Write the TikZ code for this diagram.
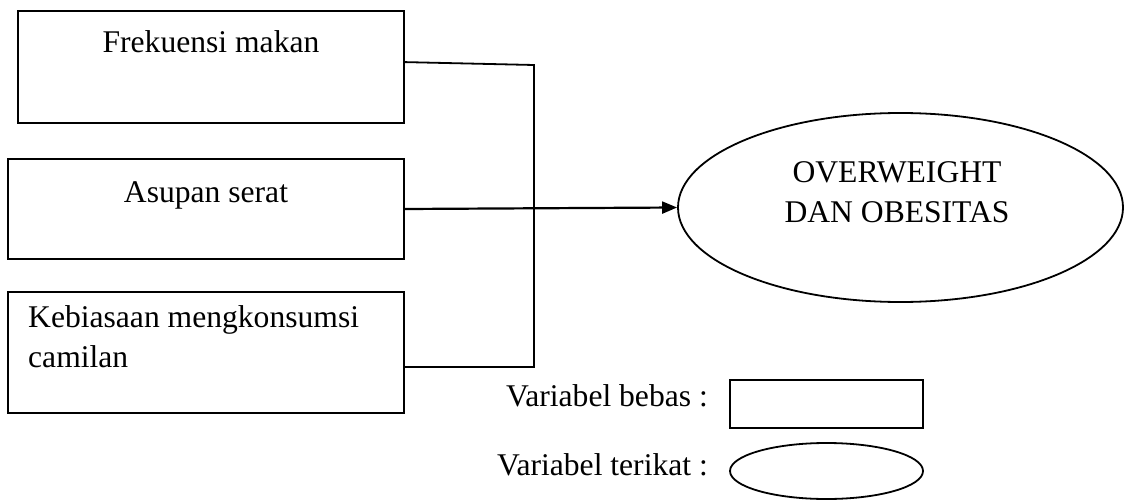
\documentclass[tikz,border=0pt]{standalone}
\usepackage{fontspec}
\setmainfont{Liberation Serif}
\usetikzlibrary{shapes.geometric,arrows.meta}
\begin{document}
\begin{tikzpicture}[x=1pt,y=-1pt,
  txt/.style={font=\fontsize{31.6}{40}\selectfont, inner sep=0pt},
  boxs/.style={draw, line width=1.8pt, inner sep=0pt},
  conn/.style={line width=1.8pt},
  arr/.style={line width=2.2pt, -{Triangle[length=15pt,width=12pt]}}]
\useasboundingbox[fill=white] (0,0) rectangle (1126,500);
% boxes
\node[boxs, minimum width=386pt, minimum height=112pt] (b1) at (211,67) {};
\node[boxs, minimum width=396pt, minimum height=100pt] (b2) at (206,209) {};
\node[boxs, minimum width=396pt, minimum height=121pt] (b3) at (206,352.5) {};
\node[txt, anchor=base] (t1) at (211,53) {Frekuensi makan};
\node[txt, anchor=base] (t2) at (206,202) {Asupan serat};
\node[txt, anchor=base west] (t3) at (28,327) {Kebiasaan mengkonsumsi};
\node[txt, anchor=base west] (t3b) at (28,367) {camilan};
% ellipse
\node[draw, ellipse, line width=1.8pt, minimum width=445pt, minimum height=189pt, inner sep=0pt] (ob) at (900.5,207.5) {};
\node[txt, anchor=base] (o1) at (897,182) {OVERWEIGHT};
\node[txt, anchor=base] (o2) at (897,222) {DAN OBESITAS};
% connectors
\coordinate (j1) at (534,65);
\coordinate (j3) at (534,367);
\draw[conn] ([yshift=-52pt]b1.north east) -- (j1) -- (j3) -- (b3.east |- j3);
\draw[arr] (b2.east) -- (ob.west);
% legend
\node[txt, anchor=base east] (lb) at (708,406) {Variabel bebas :};
\node[boxs, minimum width=193pt, minimum height=48pt] (lr) at (826.5,404) {};
\node[txt, anchor=base east] (lt) at (708,475) {Variabel terikat :};
\node[draw, ellipse, line width=1.8pt, minimum width=193pt, minimum height=56pt, inner sep=0pt] (le) at (826.5,471) {};
\end{tikzpicture}
\end{document}
